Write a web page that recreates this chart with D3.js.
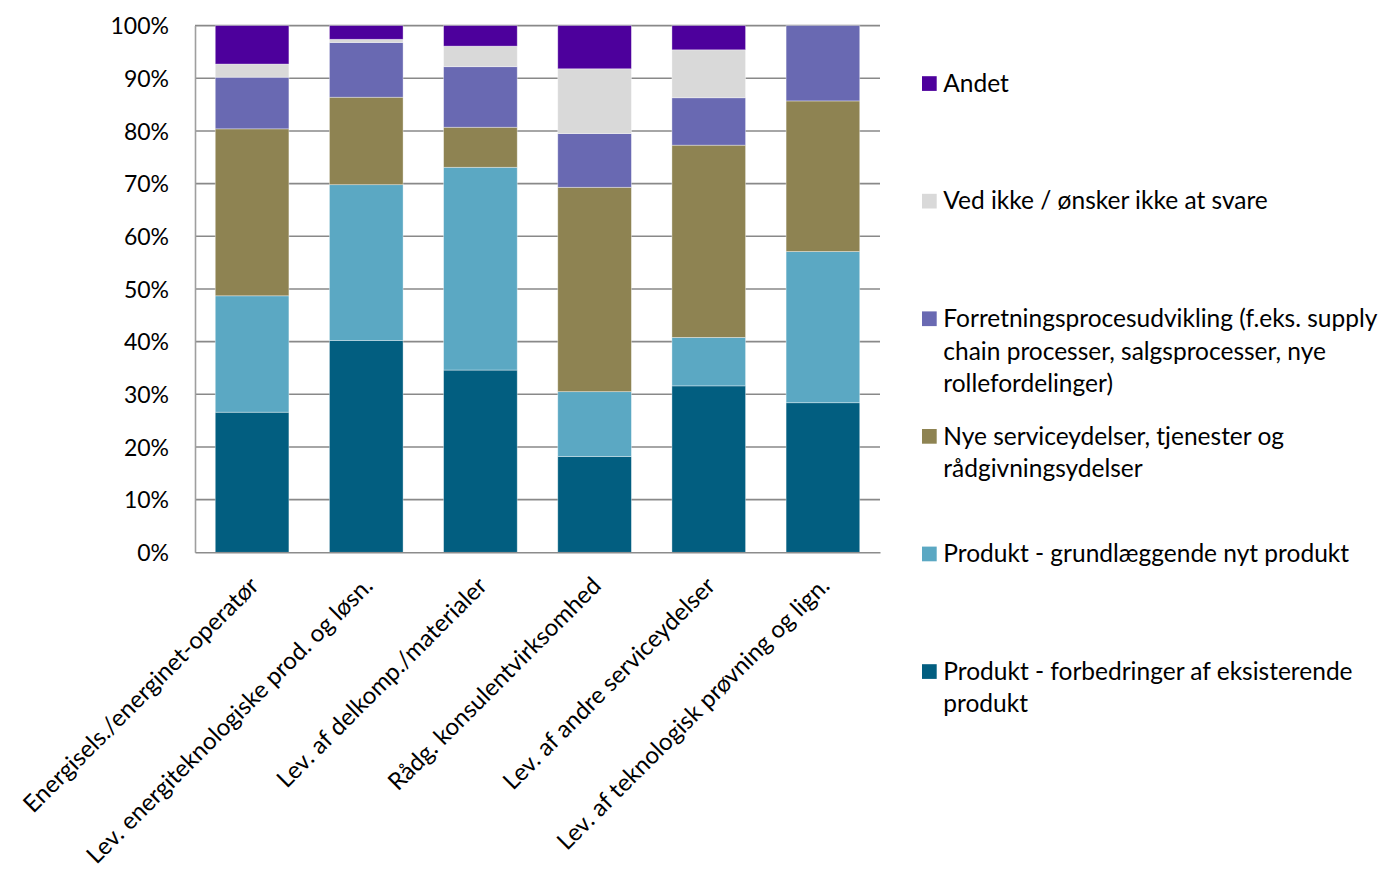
<!DOCTYPE html>
<html>
<head>
<meta charset="utf-8">
<script src="https://cdn.jsdelivr.net/npm/d3@7"></script>
<style>
  html, body { margin: 0; padding: 0; background: #fff; }
  svg { display: block; }
  text { font-family: Lato, "Open Sans", sans-serif; fill: #000; }
</style>
</head>
<body>
<svg id="chart" width="1391" height="875"></svg>
<script>
const categories = [
  "Energisels./energinet-operatør",
  "Lev. energiteknologiske prod. og løsn.",
  "Lev. af delkomp./materialer",
  "Rådg. konsulentvirksomhed",
  "Lev. af andre serviceydelser",
  "Lev. af teknologisk prøvning og lign."
];
const seriesNames = [
  "Produkt - forbedringer af eksisterende produkt",
  "Produkt - grundlæggende nyt produkt",
  "Nye serviceydelser, tjenester og rådgivningsydelser",
  "Forretningsprocesudvikling (f.eks. supply chain processer, salgsprocesser, nye rollefordelinger)",
  "Ved ikke / ønsker ikke at svare",
  "Andet"
];
const produktForbedringer = [26.6, 40.2, 34.6, 18.2, 31.6, 28.4];
const produktNyt          = [22.1, 29.6, 38.5, 12.3,  9.2, 28.7];
const nyeService          = [31.7, 16.6,  7.6, 38.8, 36.5, 28.6];
const forretningsproces   = [ 9.8, 10.4, 11.5, 10.2,  9.0, 14.3];
const vedIkke             = [ 2.5,  0.6,  3.9, 12.3,  9.1,  0.0];
const andet               = [ 7.3,  2.6,  3.9,  8.2,  4.6,  0.0];
const yTicks = [0, 10, 20, 30, 40, 50, 60, 70, 80, 90, 100];

const seriesValues = [produktForbedringer, produktNyt, nyeService, forretningsproces, vedIkke, andet];
const colors = ["#025E80", "#5BA8C3", "#8E8352", "#6969B2", "#D9D9D9", "#4D009C"];
const legendLines = [
  ["Produkt - forbedringer af eksisterende", "produkt"],
  ["Produkt - grundlæggende nyt produkt"],
  ["Nye serviceydelser, tjenester og", "rådgivningsydelser"],
  ["Forretningsprocesudvikling (f.eks. supply", "chain processer, salgsprocesser, nye", "rollefordelinger)"],
  ["Ved ikke / ønsker ikke at svare"],
  ["Andet"]
];

const svg = d3.select("#chart");
const pLeft = 195, pRight = 880, pTop = 25.6, pBottom = 552.3;
const fs = 24.5, tickFs = 23, catFs = 24;

const x = d3.scaleBand().domain(categories).range([pLeft, pRight]).paddingInner(0.355).paddingOuter(0.1775);
const y = d3.scaleLinear().domain([0, 100]).range([pBottom, pTop]);

const rows = categories.map((c, i) => {
  const r = { cat: c };
  seriesNames.forEach((s, j) => { r[s] = seriesValues[j][i]; });
  return r;
});
const stacked = d3.stack().keys(seriesNames)(rows);

// gridlines
svg.append("g").selectAll("line").data(yTicks.filter(t => t > 0)).join("line")
  .attr("x1", pLeft).attr("x2", pRight)
  .attr("y1", d => y(d)).attr("y2", d => y(d))
  .attr("stroke", "#898989").attr("stroke-width", 1.6);

// bars
svg.append("g").selectAll("g").data(stacked).join("g")
  .attr("fill", (d, i) => colors[i])
  .selectAll("rect").data(d => d).join("rect")
  .attr("x", d => x(d.data.cat))
  .attr("width", x.bandwidth())
  .attr("y", d => y(d[1]))
  .attr("height", d => Math.max(0, y(d[0]) - y(d[1])))
  .attr("stroke", "rgba(255,255,255,0.45)")
  .attr("stroke-width", 0.8);

// axes
const yAxis = d3.axisLeft(y).tickValues(yTicks).tickFormat(d => d + "%").tickSize(0).tickPadding(26);
const gy = svg.append("g").attr("transform", `translate(${pLeft},0)`).call(yAxis);
gy.select(".domain").attr("stroke", "#9f9f9f").attr("stroke-width", 1.6);
gy.selectAll("text").style("font-size", tickFs + "px").style("font-family", "Lato, 'Open Sans', sans-serif").attr("fill", "#000").attr("dy", "0.36em");

const xAxis = d3.axisBottom(x).tickSize(0).tickFormat("");
const gx = svg.append("g").attr("transform", `translate(0,${pBottom})`).call(xAxis);
gx.select(".domain").attr("stroke", "#8c8c8c").attr("stroke-width", 1.6);

// rotated category labels
svg.append("g").selectAll("text").data(categories).join("text")
  .attr("transform", d => `translate(${x(d) + x.bandwidth() / 2 + 8},${pBottom + 35}) rotate(-45)`)
  .attr("text-anchor", "end")
  .style("font-size", catFs + "px")
  .text(d => d);

// legend (top to bottom: Andet first)
const legendTop = 91.7, itemStep = 117.6, lineStep = 32.6;
const order = d3.range(seriesNames.length).reverse();
const lg = svg.append("g");
order.forEach((si, k) => {
  const base = legendTop + k * itemStep;
  lg.append("rect")
    .attr("x", 922).attr("y", base - 15.5).attr("width", 14.7).attr("height", 14.7)
    .attr("fill", colors[si]);
  const t = lg.append("text").attr("x", 943.3).attr("y", base).style("font-size", fs + "px");
  legendLines[si].forEach((ln, li) => {
    t.append("tspan").attr("x", 943.3).attr("y", base + li * lineStep).text(ln);
  });
});
</script>
</body>
</html>
